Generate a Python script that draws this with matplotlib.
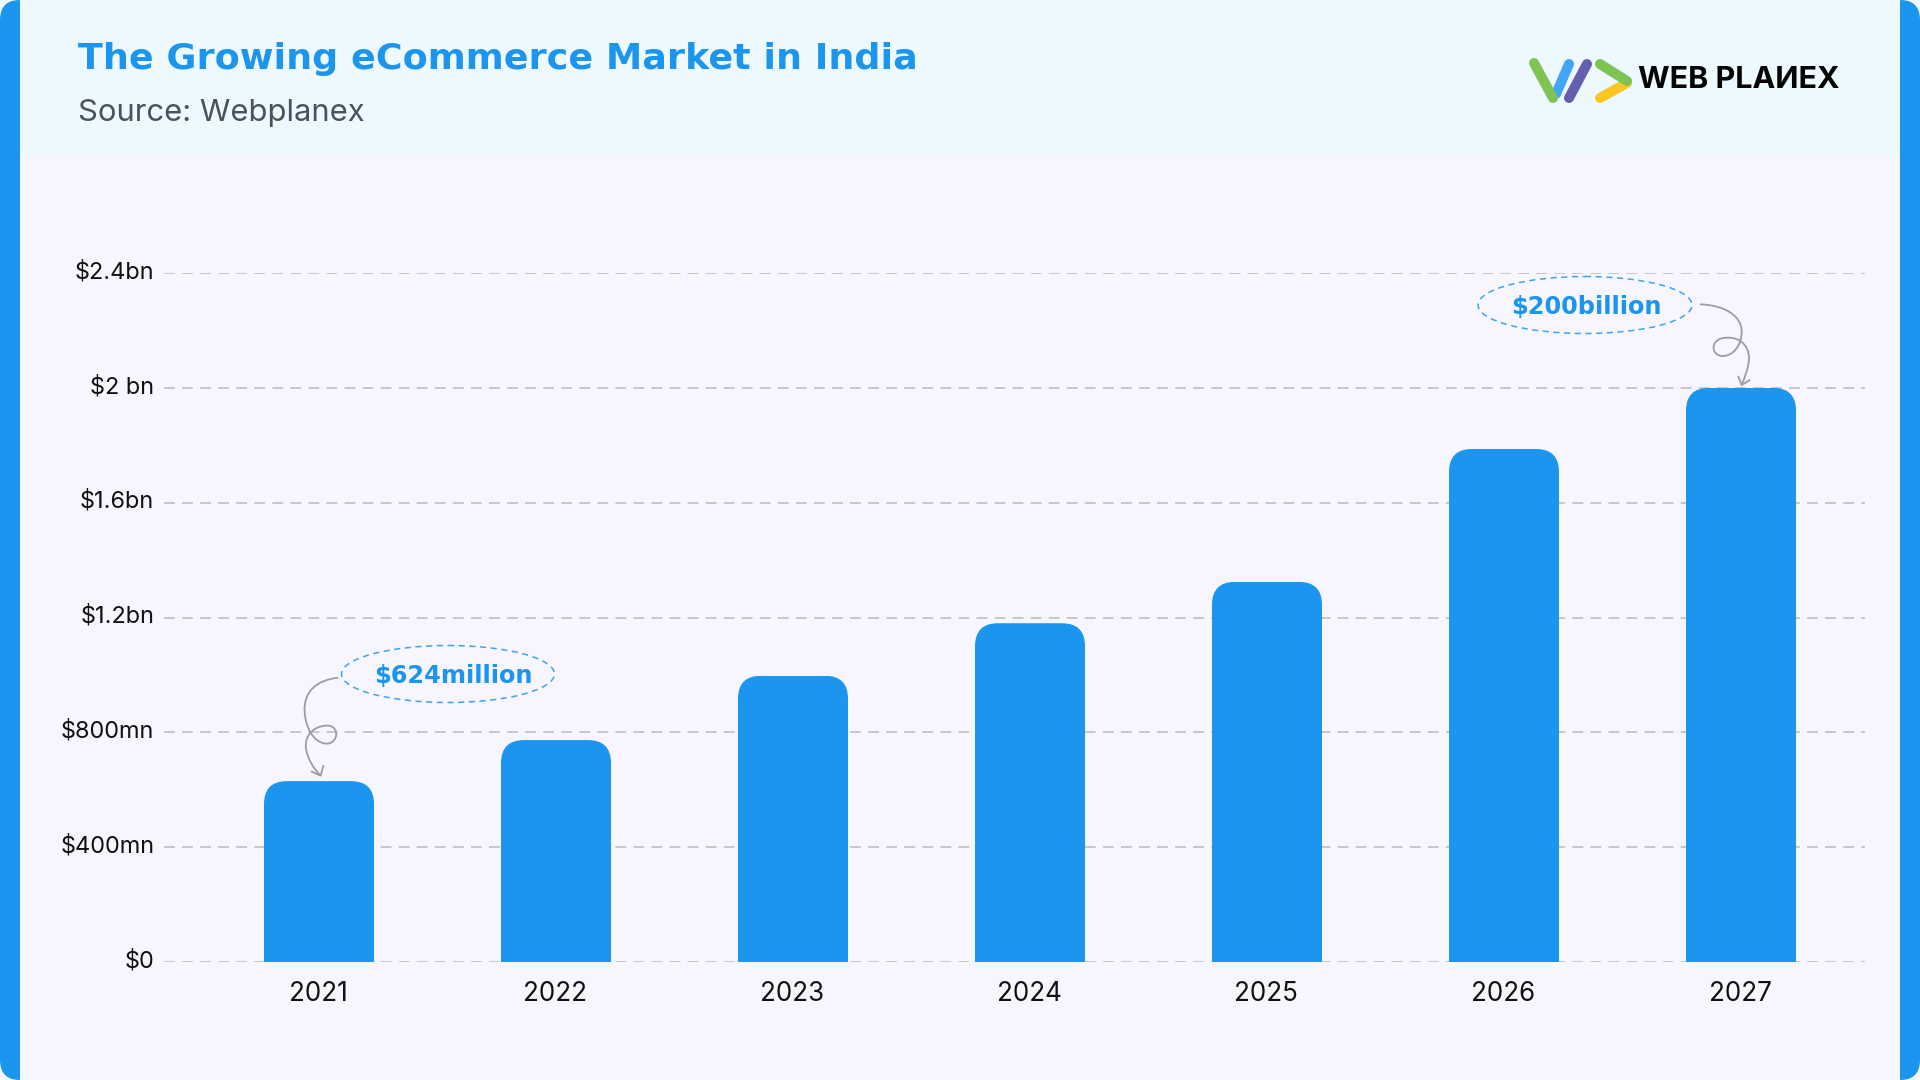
import matplotlib
matplotlib.use("Agg")
import matplotlib.pyplot as plt
from matplotlib.patches import Ellipse, FancyBboxPatch, PathPatch, Rectangle
from matplotlib.path import Path
from matplotlib.transforms import ScaledTranslation

years = ["2021", "2022", "2023", "2024", "2025", "2026", "2027"]
values = [0.63, 0.773, 0.997, 1.18, 1.324, 1.787, 2.0]
y_ticks = [0, 0.4, 0.8, 1.2, 1.6, 2.0, 2.4]
y_labels = ["$0", "$400mn", "$800mn", "$1.2bn", "$1.6bn", "$2 bn", "$2.4bn"]

BLUE = "#1B95EE"
FONT = "Inter"
BOLD_FONT = "DejaVu Sans"
W, H = 1920, 1080


def fig_rect(x0, y_top, x1, y_bottom):
    return (x0 / W, 1 - y_bottom / H, (x1 - x0) / W, (y_bottom - y_top) / H)


def px(size):
    return size * 0.72


def curl(ax, start, segments, head, off):
    # hand drawn arrow, points are pixels of a 3x crop
    pts = [start]
    codes = [Path.MOVETO]
    for seg in segments:
        pts += seg
        codes += [Path.CURVE4] * 3
    verts = [(off[0] + x / 3, off[1] + y / 3) for x, y in pts]
    ax.add_patch(PathPatch(Path(verts, codes), fc="none", ec="#9B9DA5", lw=1.3))
    hv = [(off[0] + x / 3, off[1] + y / 3) for x, y in head]
    ax.plot([p[0] for p in hv], [p[1] for p in hv], color="#9B9DA5", lw=1.3)


fig = plt.figure(figsize=(19.2, 10.8), dpi=100, facecolor="#F7F6FE")

bg = fig.add_axes((0, 0, 1, 1), zorder=0)
bg.set_xlim(0, W)
bg.set_ylim(H, 0)
bg.axis("off")
bg.add_patch(Rectangle((0, 0), W, 155, fc="#EDF8FF", ec="none"))
for x in (0, W - 60):
    bg.add_patch(FancyBboxPatch((x, 0), 60, H, boxstyle="round,pad=0,rounding_size=20", fc=BLUE, ec="none"))
bg.add_patch(Rectangle((20, 155), W - 40, H - 155, fc="#F7F6FE", ec="none"))
bg.add_patch(Rectangle((20, 0), W - 40, 155, fc="#EDF8FF", ec="none"))

ax = fig.add_axes(fig_rect(164, 273, 1865, 962), zorder=1)
ax.patch.set_alpha(0)
bars = ax.bar(years, values, width=110 / 237, color=BLUE, zorder=3)
ax.set_xlim(-155 / 237, 1546 / 237)
ax.set_ylim(0, 2.4)
ax.set_yticks(y_ticks)
ax.set_yticklabels(y_labels, fontsize=px(23.5), family=FONT, color="#111111", va="center")
ax.tick_params(axis="both", length=0)
ax.tick_params(axis="y", pad=7)
ax.tick_params(axis="x", pad=14)
for lab in ax.get_xticklabels():
    lab.set_fontsize(px(26))
    lab.set_family(FONT)
    lab.set_color("#111111")
    lab.set_transform(lab.get_transform() + ScaledTranslation(-1 / 100, 0, fig.dpi_scale_trans))
for lab in ax.get_yticklabels():
    lab.set_transform(lab.get_transform() + ScaledTranslation(0, 1 / 100, fig.dpi_scale_trans))
ax.grid(axis="y", color="#C4C4C4", lw=1.3, dashes=(6, 4), zorder=0)
for sp in ax.spines.values():
    sp.set_visible(False)

# rounded top corners on the bars
rx = 23 / 237
ry = 23 / (689 / 2.4)
for b in bars:
    x0, x1, top = b.get_x(), b.get_x() + b.get_width(), b.get_height()
    verts = [(x0, 0), (x0, top - ry), (x0, top), (x0 + rx, top), (x1 - rx, top), (x1, top), (x1, top - ry), (x1, 0), (x0, 0)]
    codes = [Path.MOVETO, Path.LINETO, Path.CURVE3, Path.CURVE3, Path.LINETO, Path.CURVE3, Path.CURVE3, Path.LINETO, Path.CLOSEPOLY]
    b.set_clip_path(Path(verts, codes), ax.transData)

ov = fig.add_axes((0, 0, 1, 1), zorder=2)
ov.set_xlim(0, W)
ov.set_ylim(H, 0)
ov.axis("off")

ov.text(78, 59, "The Growing eCommerce Market in India", fontsize=px(36.5), fontweight="bold", family=BOLD_FONT, color=BLUE, va="center")
ov.text(78, 113, "Source: Webplanex", fontsize=px(31), family=FONT, color="#475263", va="center")

# logo
for (x0, y0, x1, y1), c in [
    ((1569, 64, 1556, 94), "#42A5F5"),
    ((1534, 63, 1553, 98), "#7FC355"),
    ((1587, 64, 1569, 98), "#655DB0"),
    ((1627, 83, 1600, 98), "#FDC623"),
    ((1600, 64, 1627, 81), "#7FC355"),
]:
    ov.plot([x0, x1], [y0, y1], color=c, lw=px(10), solid_capstyle="round")
ov.text(1638, 80, "WEB PLAИEX", fontsize=px(30.5), fontweight="bold", family=FONT, color="#050505", va="center")

# callouts
ov.add_patch(Ellipse((448, 674), 213, 57, fc="none", ec="#3EA3F0", lw=1.1, ls=(0, (4, 3))))
ov.text(453, 676, "$624million", fontsize=px(24), fontweight="bold", family=BOLD_FONT, color=BLUE, ha="center", va="center")
ov.add_patch(Ellipse((1585, 305), 214, 57, fc="none", ec="#3EA3F0", lw=1.1, ls=(0, (4, 3))))
ov.text(1586, 307, "$200billion", fontsize=px(24), fontweight="bold", family=BOLD_FONT, color=BLUE, ha="center", va="center")

curl(
    ov,
    (325, 173),
    [
        [(260, 180), (220, 215), (224, 275)],
        [(226, 320), (250, 370), (290, 371)],
        [(325, 370), (330, 320), (295, 317)],
        [(255, 315), (222, 345), (228, 385)],
        [(232, 415), (250, 445), (272, 467)],
    ],
    [(245, 455), (272, 467), (280, 438)],
    (230, 620),
)
curl(
    ov,
    (750, 133),
    [
        [(820, 135), (875, 165), (875, 215)],
        [(875, 255), (850, 290), (815, 288)],
        [(785, 285), (780, 245), (815, 235)],
        [(860, 225), (897, 250), (897, 295)],
        [(897, 320), (885, 350), (875, 375)],
    ],
    [(865, 350), (875, 375), (898, 361)],
    (1450, 260),
)

fig.savefig("out.png", dpi=100, facecolor=fig.get_facecolor())
